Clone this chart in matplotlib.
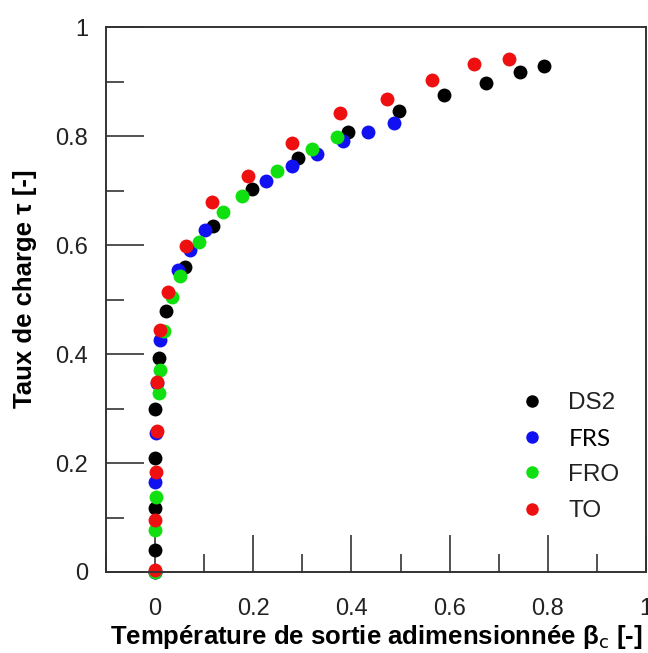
import matplotlib
matplotlib.use('Agg')
import matplotlib.pyplot as plt
from matplotlib.ticker import MultipleLocator

plt.rcParams['font.family'] = ['Liberation Sans', 'DejaVu Sans']

# DS2
ds2_x = [0.0, 0.0, 0.0, 0.0, 0.0, 0.007, 0.022, 0.060, 0.117, 0.197, 0.292, 0.393, 0.496, 0.589, 0.675, 0.743, 0.793]
ds2_y = [0.0, 0.040, 0.118, 0.210, 0.300, 0.393, 0.478, 0.559, 0.635, 0.702, 0.759, 0.808, 0.846, 0.876, 0.898, 0.917, 0.929]
# FRS
frs_x = [0.0, 0.0, 0.002, 0.003, 0.011, 0.047, 0.072, 0.102, 0.226, 0.278, 0.329, 0.382, 0.434, 0.486]
frs_y = [0.0, 0.166, 0.255, 0.346, 0.426, 0.555, 0.591, 0.628, 0.717, 0.745, 0.767, 0.790, 0.807, 0.824]
# FRO
fro_x = [0.0, 0.0, 0.002, 0.007, 0.009, 0.019, 0.035, 0.051, 0.090, 0.138, 0.178, 0.249, 0.320, 0.370]
fro_y = [0.0, 0.077, 0.138, 0.328, 0.371, 0.443, 0.505, 0.543, 0.606, 0.660, 0.690, 0.736, 0.776, 0.798]
# TO
to_x = [0.0, 0.0, 0.002, 0.003, 0.003, 0.009, 0.026, 0.062, 0.116, 0.189, 0.278, 0.376, 0.472, 0.564, 0.650, 0.720]
to_y = [0.004, 0.095, 0.184, 0.259, 0.349, 0.444, 0.513, 0.598, 0.678, 0.727, 0.788, 0.843, 0.868, 0.903, 0.933, 0.941]

tick_vals = [0, 0.2, 0.4, 0.6, 0.8, 1.0]
tick_labels = ['0', '0.2', '0.4', '0.6', '0.8', '1']

series = [
    ('DS2', ds2_x, ds2_y, '#000000'),
    ('FRS', frs_x, frs_y, '#1010f0'),
    ('FRO', fro_x, fro_y, '#10e010'),
    ('TO', to_x, to_y, '#ee1010'),
]

fig = plt.figure(figsize=(6.48, 6.53), dpi=100)
ax = fig.add_axes([106 / 648, 1 - 572 / 653, 540 / 648, 545 / 653])

for name, xs, ys, col in series:
    ax.plot(xs, ys, 'o', color=col, markersize=10, markeredgewidth=0, label=name, clip_on=False)

ax.set_xlim(-0.1, 1.0)
ax.set_ylim(0, 1)
ax.xaxis.set_minor_locator(MultipleLocator(0.1))
ax.yaxis.set_minor_locator(MultipleLocator(0.1))
ax.set_xticks(tick_vals)
ax.set_xticklabels(tick_labels)
ax.set_yticks(tick_vals)
ax.set_yticklabels(tick_labels)

ax.tick_params(which='major', direction='in', length=27, width=1.1, color='#222222',
               labelsize=17, labelcolor='#222222')
ax.tick_params(which='minor', direction='in', length=13, width=1.1, color='#222222')
ax.tick_params(axis='x', which='major', pad=19)
ax.tick_params(axis='y', which='major', pad=13)
for sp in ax.spines.values():
    sp.set_linewidth(1.4)
    sp.set_color('#333333')

ax.set_xlabel('Température de sortie adimensionnée β$_\\mathrm{c}$ [-]', fontsize=18.5,
              fontweight='bold', labelpad=2)
ax.set_ylabel('Taux de charge τ [-]', fontsize=18.5, fontweight='bold')
ax.yaxis.set_label_coords(-0.128, 0.52)

leg = ax.legend(frameon=False, loc='upper left', bbox_to_anchor=(0.73, 0.37),
                handlelength=0.8, handletextpad=1.1, labelspacing=0.59,
                markerscale=0.9, fontsize=17.5)
for t in leg.get_texts():
    t.set_color('#222222')
leg.get_texts()[1].set_fontfamily(['Lato', 'DejaVu Sans'])
leg.get_texts()[1].set_color('black')

fig.savefig('out.png', dpi=100)
